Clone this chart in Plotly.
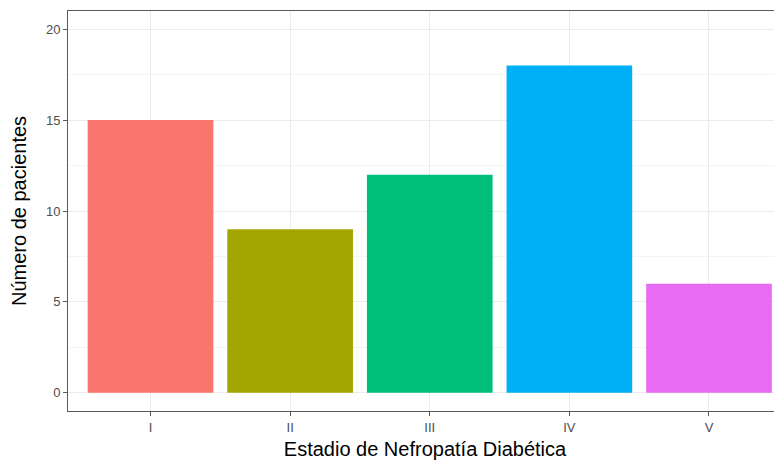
import plotly.graph_objects as go

categories = ["I", "II", "III", "IV", "V"]
values = [15, 9, 12, 18, 6]
colors = ["#F8766D", "#A3A500", "#00BF7D", "#00B0F6", "#E76BF3"]
y_ticks = [0, 5, 10, 15, 20]
y_minor = [2.5, 7.5, 12.5, 17.5]

fig = go.Figure()
fig.add_trace(go.Bar(
    x=categories, y=values, marker=dict(color=colors, line=dict(width=0)),
    width=0.9, showlegend=False,
))

font_family = "Liberation Sans, Arial, sans-serif"
fig.update_layout(
    width=774, height=452,
    margin=dict(l=60, r=0, t=3, b=49, autoexpand=False),
    paper_bgcolor="white", plot_bgcolor="white",
    font=dict(family=font_family),
    xaxis=dict(
        type="category", range=[-0.591, 4.523],
        showline=True, linecolor="#5a5a5a", linewidth=1, mirror=True,
        showgrid=True, gridcolor="#EBEBEB", gridwidth=1.2,
        ticks="outside", ticklen=4, tickcolor="#5a5a5a", tickwidth=1,
        tickfont=dict(size=13, color="#4D4D4D"),
        title=dict(text="Estadio de Nefropatía Diabética", font=dict(size=20, color="black"), standoff=8),
        zeroline=False, automargin=False,
    ),
    yaxis=dict(
        range=[-1, 21], tickvals=y_ticks,
        showline=True, linecolor="#5a5a5a", linewidth=1, mirror=False,
        showgrid=True, gridcolor="#EBEBEB", gridwidth=1.2,
        minor=dict(tickvals=y_minor, showgrid=True, gridcolor="#F4F4F4", gridwidth=0.6, ticks=""),
        ticks="outside", ticklen=4, tickcolor="#5a5a5a", tickwidth=1,
        tickfont=dict(size=13, color="#4D4D4D"),
        title=dict(text="Número de pacientes", font=dict(size=20, color="black"), standoff=14),
        zeroline=False, automargin=False,
    ),
)

fig.write_html("out.html")
